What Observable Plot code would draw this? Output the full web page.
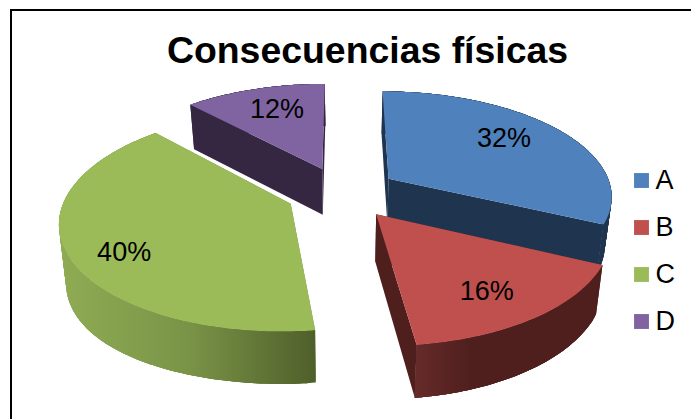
<!DOCTYPE html>
<html>
<head>
<meta charset="utf-8">
<script src="https://cdn.jsdelivr.net/npm/d3@7"></script>
<script src="https://cdn.jsdelivr.net/npm/@observablehq/plot@0.6"></script>
<style>
html,body{margin:0;padding:0;background:#fff;overflow:hidden}
svg{display:block}
</style>
</head>
<body>
<div id="chart"></div>
<script>
const chartTitle = "Consecuencias físicas";
const categories = ["A", "B", "C", "D"];
const shares = [32, 16, 40, 12];
const topColors = ["#4f81bd", "#c0504d", "#9bbb59", "#8064a2"];
const sideStops = [
  [[0, "#1f344f"], [1, "#1f344f"]],
  [[0, "#652b29"], [0.3, "#4f1f1e"], [1, "#4f1f1e"]],
  [[0, "#8fac54"], [0.5, "#7a9447"], [1, "#4f5f2a"]],
  [[0, "#352742"], [1, "#352742"]]
];
const wallColors = ["#1f344f", "#4f1f1e", "#6f8a3d", "#352742"];
const drawOrder = [3, 0, 2, 1];
const labelNudgeX = [-5, 3, -13, 4];
const labelNudgeY = [-5, 8, 15, -2];

// 3D pie camera
const cam = {cx: 341.7, horizon: -500, H: 692, a: 224, p: 0.151, explode: 0.25, baseShrink: 0.975};

function project(X, Y) {
  const w = 1 - cam.p * Y;
  return {x: cam.cx + cam.a * X / w, y: cam.horizon + cam.H / w, w};
}
function below(pt) {
  const skew = pt.x < cam.cx ? 10 * Math.pow((cam.cx - pt.x) / 285, 3) : 0;
  return {x: cam.cx + (pt.x - cam.cx) * cam.baseShrink, y: pt.y + 17.75 + 28.9 / pt.w + skew};
}

let running = 0;
const slices = categories.map((name, i) => {
  const start = running * 3.6;
  running += shares[i];
  const end = running * 3.6;
  const mid = (start + end) / 2 * Math.PI / 180;
  return {i, name, start, end, mid,
    ox: cam.explode * Math.sin(mid), oy: -cam.explode * Math.cos(mid)};
});

function rim(s) {
  const n = Math.max(2, Math.round(s.end - s.start));
  return d3.range(n + 1).map(k => {
    const t = (s.start + (s.end - s.start) * k / n) * Math.PI / 180;
    return project(s.ox + Math.sin(t), s.oy - Math.cos(t));
  });
}
function poly(points, fill) {
  return Plot.line(points, {x: "x", y: "y", fill, stroke: "none", curve: "linear-closed"});
}
// Side of the slice: overlapping quads, so no seams show between them
function band(arc, fill) {
  const last = arc.length - 1;
  const quads = d3.range(last).flatMap(k => {
    const piece = arc.slice(k, Math.min(k + 4, last) + 1);
    return [...piece, ...piece.slice().reverse().map(below)].map(v => ({x: v.x, y: v.y, quad: k}));
  });
  return Plot.line(quads, {x: "x", y: "y", z: "quad", fill, stroke: "none", curve: "linear-closed"});
}

const gradients = () => {
  const defs = d3.create("svg:defs");
  slices.forEach(s => {
    const arc = rim(s), xs = arc.flatMap(p => [p.x, below(p).x]);
    const g = defs.append("linearGradient").attr("id", "side" + s.name)
      .attr("gradientUnits", "userSpaceOnUse")
      .attr("x1", d3.min(xs)).attr("x2", d3.max(xs)).attr("y1", 0).attr("y2", 0);
    sideStops[s.i].forEach(([o, c]) => g.append("stop").attr("offset", o).attr("stop-color", c));
  });
  return defs.node();
};

const sliceMarks = drawOrder.flatMap(idx => {
  const s = slices[idx];
  const tip = project(s.ox, s.oy);
  const arc = rim(s);
  const first = arc[0], last = arc[arc.length - 1];
  return [
    poly([tip, first, below(first), below(tip)], wallColors[idx]),
    poly([tip, last, below(last), below(tip)], wallColors[idx]),
    band(arc, `url(#side${s.name})`),
    poly([tip, ...arc], topColors[idx])
  ];
});

const labelMarks = slices.map(s => {
  const q = project(s.ox + 0.7 * Math.sin(s.mid), s.oy - 0.7 * Math.cos(s.mid));
  return Plot.text([{...q, label: shares[s.i] + "%"}], {
    x: "x", y: "y", text: "label", dx: labelNudgeX[s.i], dy: labelNudgeY[s.i],
    fontSize: 27, fill: "#000", textAnchor: "middle", lineAnchor: "middle"
  });
});

const legendRows = categories.map((name, i) => ({name, color: topColors[i], row: 180 + i * 47}));

const chart = Plot.plot({
  width: 691, height: 419,
  margin: 0,
  style: {fontFamily: "'Liberation Sans', Arial, sans-serif", background: "#fff", overflow: "hidden"},
  x: {domain: [0, 691], range: [0, 691], axis: null},
  y: {domain: [0, 419], range: [0, 419], axis: null},
  marks: [
    gradients,
    ...sliceMarks,
    ...labelMarks,
    Plot.text([chartTitle], {frameAnchor: "top", dy: 36, dx: 21.5, text: d => d, fontSize: 37.4, fontWeight: "bold", fill: "#000", lineAnchor: "top"}),
    Plot.dot(legendRows, {x: () => 641, y: "row", symbol: "square", r: 8.4, fill: "color", stroke: "none"}),
    Plot.text(legendRows, {x: () => 655, y: "row", text: "name", fontSize: 27, fill: "#000", textAnchor: "start", lineAnchor: "middle"}),
    Plot.ruleY([9.5], {x1: 10, x2: 691, stroke: "#000", strokeWidth: 2}),
    Plot.ruleX([10.5], {y1: 9, y2: 419, stroke: "#000", strokeWidth: 2})
  ]
});
document.getElementById("chart").appendChild(chart);
</script>
</body>
</html>
